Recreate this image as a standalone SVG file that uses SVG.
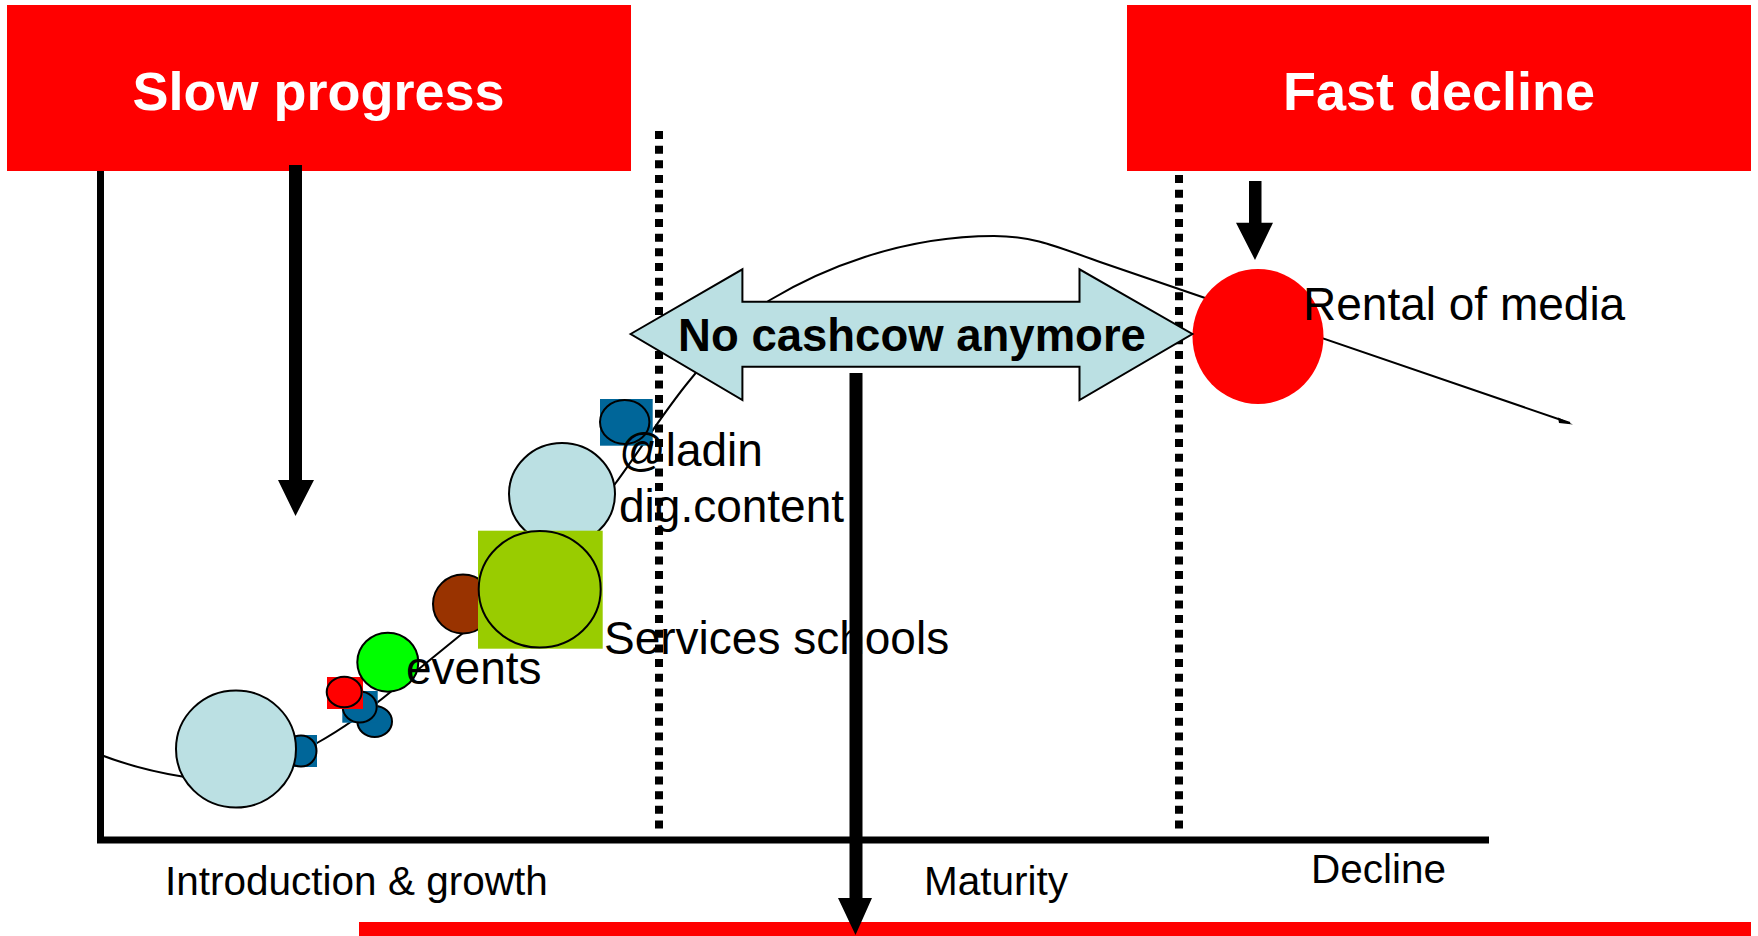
<svg xmlns="http://www.w3.org/2000/svg" width="1758" height="936" viewBox="0 0 1758 936">
<style>
.bar{fill:#FF0000}
.title{font-family:"Liberation Sans",Arial,sans-serif;font-weight:bold;font-size:54px;fill:#FFFFFF;text-anchor:middle}
.lbl{font-family:"Liberation Sans",Arial,sans-serif;font-size:46px;fill:#000000}
.axl{font-family:"Liberation Sans",Arial,sans-serif;font-size:40.5px;fill:#000000}
.bub{stroke:#000000;stroke-width:2}
.blue{fill:#006699}
.lb{fill:#BBE0E3}
.dot{stroke:#000000;stroke-width:8;stroke-dasharray:8 6.67;fill:none}
.arr{fill:#000000}
</style>
<rect width="1758" height="936" fill="#FFFFFF"/>

<g id="axes">
<line x1="100.5" y1="171" x2="100.5" y2="843" stroke="#000" stroke-width="7"/>
<line x1="97" y1="840" x2="1489" y2="840" stroke="#000" stroke-width="7"/>
</g>

<g id="bottom-bar"><rect class="bar" x="359" y="922" width="1392" height="14"/></g>

<g id="connectors">
<path d="M101,755 Q140,770 185,777 L240,770 L317,743 C335,733 365,713 393,690 L463,633 L615,484 C640,450 665,410 690,380 C720,343 745,315 770,300 C820,270 900,236 994,236 C1030,236 1050,244 1100,262 L1570,423" fill="none" stroke="#000" stroke-width="2"/>
<polygon points="1573,424.5 1558,417.5 1559,423" fill="#000"/>
</g>

<g id="bubbles">
<g id="b-blue1"><rect class="blue" x="285" y="735" width="32" height="32"/><circle class="blue bub" cx="301" cy="751" r="15.5"/></g>
<g id="b-intro"><ellipse class="lb bub" cx="236" cy="749" rx="60" ry="58.5"/></g>
<g id="b-blue3"><ellipse class="blue bub" cx="374.7" cy="721.5" rx="17.3" ry="15.5"/></g>
<g id="b-blue2"><rect class="blue" x="342.3" y="691" width="35.4" height="31.7"/><ellipse class="blue bub" cx="359.7" cy="707" rx="17" ry="15.5"/></g>
<g id="b-red"><rect class="bar" x="327" y="677" width="36" height="32"/><ellipse class="bar bub" cx="344.2" cy="692" rx="17.5" ry="15.3"/></g>
<g id="b-events"><ellipse class="bub" fill="#00FF00" cx="387.8" cy="662.2" rx="30.5" ry="29.5"/></g>
<g id="b-brown"><ellipse class="bub" fill="#993300" cx="463" cy="604" rx="30" ry="29.5"/></g>
<g id="b-dig"><ellipse class="lb bub" cx="562" cy="494" rx="53" ry="51"/></g>
<g id="b-schools"><rect fill="#99CC00" x="478" y="530.7" width="124.7" height="118"/><ellipse class="bub" fill="#99CC00" cx="539.7" cy="589.3" rx="61" ry="58.3"/></g>
<g id="b-aladin"><rect class="blue" x="600" y="399" width="52.7" height="46.7"/><ellipse class="blue bub" cx="624.7" cy="422" rx="24.7" ry="22"/></g>
<g id="b-rental"><ellipse class="bar" cx="1258" cy="336.5" rx="65.5" ry="67.5"/></g>
</g>

<g id="labels">
<text class="lbl" x="406" y="684">events</text>
<text class="lbl" x="604" y="654">Services schools</text>
<text class="lbl" x="619" y="466">@ladin</text>
<text class="lbl" x="619" y="522">dig.content</text>
<text class="lbl" x="1303" y="320">Rental of media</text>
<text class="axl" x="165" y="895">Introduction &amp; growth</text>
<text class="axl" x="924" y="895">Maturity</text>
<text class="axl" x="1311" y="883">Decline</text>
</g>

<g id="dividers">
<line class="dot" x1="659" y1="131" x2="659" y2="834"/>
<line class="dot" x1="1179" y1="175" x2="1179" y2="834"/>
</g>

<g id="cashcow">
<polygon points="630.6,334 742.4,269.3 742.4,301.7 1079.5,301.7 1079.5,269.3 1192.4,334 1079.5,400 1079.5,366.7 742.4,366.7 742.4,400" fill="#BBE0E3" stroke="#000" stroke-width="2"/>
<text x="912" y="351" font-family="Liberation Sans, Arial, sans-serif" font-weight="bold" font-size="45.5" text-anchor="middle">No cashcow anymore</text>
</g>

<g id="slow-progress">
<rect class="bar" x="7" y="5" width="624" height="166"/>
<text class="title" x="318.5" y="110">Slow progress</text>
</g>

<g id="fast-decline">
<rect class="bar" x="1127" y="5" width="624" height="166"/>
<text class="title" x="1439" y="110">Fast decline</text>
</g>

<g id="arrows">
<polygon class="arr" points="289,165 302,165 302,480 314,480 295.5,516 278,480 289,480"/>
<polygon class="arr" points="1249,181 1261.5,181 1261.5,222.7 1273,222.7 1255,260 1236,222.7 1249,222.7"/>
<polygon class="arr" points="849.5,373 862.5,373 862.5,898 872,898 855.5,935 838,898 849.5,898"/>
</g>
</svg>
